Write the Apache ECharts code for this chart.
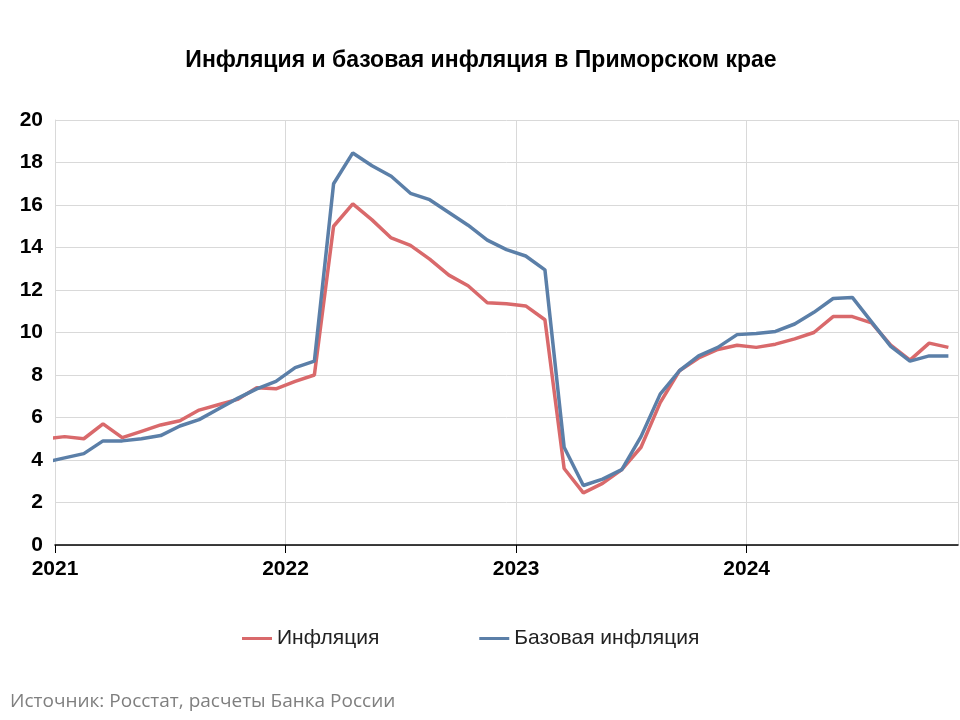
<!DOCTYPE html>
<html>
<head>
<meta charset="utf-8">
<script src="https://cdn.jsdelivr.net/npm/echarts@6/dist/echarts.min.js"></script>
<style>
  html, body { margin: 0; padding: 0; background: #fff; }
  #chart { width: 960px; height: 720px; }
</style>
</head>
<body>
<div id="chart"></div>
<script>
// monthly values, Dec 2020 .. Nov 2024 (first point falls just left of the axis and is clipped)
const months = 48;
const yearLabels = { 0: "2021", 12: "2022", 24: "2023", 36: "2024" };

const inflation = [
  5.0,
  5.1, 5.0, 5.7, 5.05, 5.35, 5.65, 5.85, 6.35, 6.6, 6.85, 7.4, 7.35,
  7.7, 8.0, 15.0, 16.05, 15.3, 14.45, 14.1, 13.45, 12.7, 12.2, 11.4, 11.35,
  11.25, 10.6, 3.6, 2.45, 2.9, 3.55, 4.6, 6.7, 8.2, 8.8, 9.2, 9.4,
  9.3, 9.45, 9.7, 10.0, 10.75, 10.75, 10.45, 9.4, 8.7, 9.5, 9.3
];
const coreInflation = [
  3.9,
  4.1, 4.3, 4.9, 4.9, 5.0, 5.15, 5.6, 5.9, 6.4, 6.9, 7.35, 7.7,
  8.35, 8.65, 17.0, 18.45, 17.85, 17.35, 16.55, 16.25, 15.65, 15.05, 14.35, 13.9,
  13.6, 12.95, 4.6, 2.8, 3.1, 3.55, 5.1, 7.1, 8.2, 8.9, 9.3, 9.9,
  9.95, 10.05, 10.4, 10.95, 11.6, 11.65, 10.5, 9.35, 8.65, 8.9, 8.9
];

// each month is drawn at its middle: index 1 -> Jan 2021 -> x = 0.5
const toPoints = arr => arr.map((v, i) => [i - 0.5, v]);

const font = "Arial, 'Liberation Sans', sans-serif";

const chart = echarts.init(document.getElementById("chart"));
chart.setOption({
  animation: false,
  color: ["#d9696b", "#5b7fa8"],
  title: {
    text: "Инфляция и базовая инфляция в Приморском крае",
    left: 476,
    textAlign: "center",
    top: 44,
    textStyle: { fontFamily: font, fontSize: 23, fontWeight: "bold", color: "#000" }
  },
  legend: {
    top: 623,
    left: 237,
    itemGap: 100,
    itemWidth: 30,
    icon: "path://M0,0 L30,0 L30,3 L0,3 Z",
    data: ["Инфляция", "Базовая инфляция"],
    textStyle: { fontFamily: font, fontSize: 21, color: "#222" }
  },
  graphic: [{
    type: "text",
    left: 10,
    top: 692,
    style: {
      text: "Источник: Росстат, расчеты Банка России",
      fontFamily: "'Open Sans', sans-serif",
      fontSize: 19,
      fill: "#7f7f7f"
    }
  }],
  grid: { left: 55, right: 2, top: 120, bottom: 175 },
  xAxis: {
    type: "value",
    min: 0,
    max: months - 1,
    interval: 12,
    axisLine: { lineStyle: { color: "#000", width: 1.5 } },
    axisTick: { show: true, inside: false, length: 8, lineStyle: { color: "#000" } },
    axisLabel: {
      showMaxLabel: false,
      formatter: v => yearLabels[v] || "",
      fontFamily: font, fontSize: 21, fontWeight: "bold", color: "#000", margin: 14
    },
    splitLine: { show: true, lineStyle: { color: "#d9d9d9" } }
  },
  yAxis: {
    type: "value",
    min: 0,
    max: 20,
    interval: 2,
    axisLine: { show: true, lineStyle: { color: "#d9d9d9" } },
    axisTick: { show: false },
    axisLabel: { fontFamily: font, fontSize: 21, fontWeight: "bold", color: "#000", margin: 12 },
    splitLine: { lineStyle: { color: "#d9d9d9" } }
  },
  series: [
    {
      name: "Инфляция",
      type: "line",
      showSymbol: false,
      clip: true,
      lineStyle: { width: 3.5 },
      data: toPoints(inflation),
      z: 2
    },
    {
      name: "Базовая инфляция",
      type: "line",
      showSymbol: false,
      clip: true,
      lineStyle: { width: 3.5 },
      data: toPoints(coreInflation),
      z: 3
    }
  ]
});
</script>
</body>
</html>
